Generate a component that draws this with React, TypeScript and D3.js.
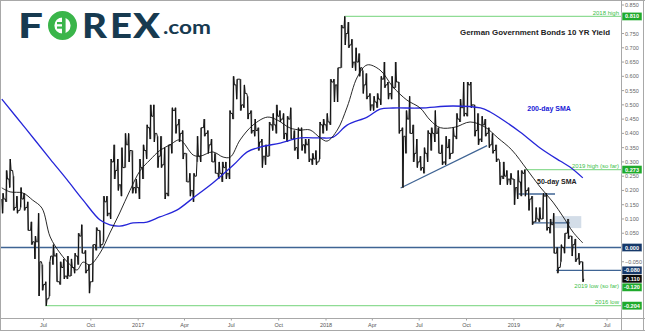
import React from "react";
import * as d3 from "d3";

const W = 645;
const H = 331;

// ---- weekly bund yield data (week starting Monday) ----
const weekStart = "2016-04-11";
const highs = [
  0.19, 0.27, 0.31, 0.25, 0.18, 0.21, 0.19, 0.16, 0.09, 0.04, 0.12, -0.06, -0.12, -0.05, 0.01, -0.02, -0.05, -0.04, -0.03, -0.04,
  -0.02, 0.05, 0.08, -0.01, -0.06, 0.01, 0.07, 0.06, 0.18, 0.18, 0.31, 0.36, 0.31, 0.35, 0.40, 0.40, 0.34, 0.24,
  0.31, 0.36, 0.43, 0.50, 0.50, 0.39, 0.39, 0.35, 0.36, 0.49, 0.49, 0.45, 0.41, 0.33, 0.26, 0.26, 0.39, 0.42, 0.45, 0.41,
  0.38, 0.33, 0.30, 0.30, 0.30, 0.48, 0.60, 0.59, 0.59, 0.57, 0.53, 0.48, 0.45, 0.42, 0.38, 0.36, 0.44, 0.47, 0.50, 0.48,
  0.47, 0.46, 0.49, 0.41, 0.42, 0.42, 0.38, 0.38, 0.33, 0.34, 0.44, 0.45,
  0.47, 0.59, 0.59, 0.63, 0.78, 0.81, 0.79, 0.73, 0.70, 0.68, 0.62, 0.61, 0.54, 0.53, 0.54, 0.60, 0.65, 0.58, 0.60, 0.65,
  0.58, 0.42, 0.48, 0.53, 0.43, 0.38, 0.32, 0.35, 0.41, 0.42, 0.48, 0.42, 0.36, 0.39, 0.38, 0.42, 0.47, 0.52, 0.58, 0.58,
  0.58, 0.50, 0.47, 0.46, 0.45, 0.42, 0.40, 0.36, 0.30, 0.30, 0.27, 0.26, 0.24,
  0.27, 0.27, 0.273, 0.21, 0.18, 0.14, 0.14, 0.19, 0.19, 0.10, 0.12, 0.00, 0.01, 0.05, 0.10, 0.04, 0.03, -0.02, -0.05,
];
const lows = [
  0.12, 0.16, 0.21, 0.13, 0.12, 0.14, 0.13, 0.06, 0.01, -0.04, -0.17, -0.15, -0.204, -0.17, -0.06, -0.12, -0.13, -0.11, -0.11, -0.10,
  -0.09, -0.06, -0.02, -0.09, -0.16, -0.12, -0.01, 0.00, 0.02, 0.11, 0.10, 0.24, 0.20, 0.18, 0.28, 0.30, 0.19, 0.19,
  0.17, 0.24, 0.31, 0.38, 0.37, 0.28, 0.28, 0.17, 0.18, 0.33, 0.40, 0.37, 0.31, 0.23, 0.18, 0.16, 0.30, 0.30, 0.39, 0.33,
  0.30, 0.26, 0.24, 0.23, 0.24, 0.24, 0.45, 0.52, 0.48, 0.49, 0.45, 0.40, 0.39, 0.34, 0.28, 0.29, 0.32, 0.41, 0.40, 0.44,
  0.38, 0.37, 0.38, 0.34, 0.31, 0.34, 0.33, 0.30, 0.29, 0.29, 0.31, 0.40,
  0.41, 0.43, 0.51, 0.51, 0.63, 0.71, 0.70, 0.63, 0.62, 0.60, 0.54, 0.52, 0.48, 0.48, 0.49, 0.50, 0.56, 0.52, 0.52, 0.56,
  0.40, 0.21, 0.33, 0.40, 0.30, 0.28, 0.27, 0.26, 0.30, 0.34, 0.37, 0.33, 0.29, 0.29, 0.31, 0.33, 0.38, 0.44, 0.46, 0.46,
  0.49, 0.39, 0.36, 0.37, 0.39, 0.35, 0.33, 0.30, 0.22, 0.24, 0.22, 0.22, 0.15,
  0.17, 0.18, 0.18, 0.13, 0.08, 0.09, 0.09, 0.10, 0.06, 0.05, -0.02, -0.09, -0.05, -0.02, 0.03, -0.03, -0.05, -0.06, -0.12,
];
const closes = [
  0.17, 0.24, 0.27, 0.14, 0.13, 0.17, 0.14, 0.06, 0.02, 0.02, -0.05, -0.13, -0.18, -0.03, -0.03, -0.12, -0.07, -0.10, -0.10, -0.07,
  -0.03, 0.04, -0.02, -0.08, -0.12, 0.01, 0.06, 0.01, 0.16, 0.12, 0.30, 0.27, 0.22, 0.28, 0.36, 0.34, 0.21, 0.21,
  0.28, 0.34, 0.42, 0.46, 0.40, 0.32, 0.29, 0.19, 0.36, 0.48, 0.43, 0.40, 0.33, 0.23, 0.20, 0.25, 0.32, 0.42, 0.40, 0.36,
  0.30, 0.26, 0.26, 0.28, 0.26, 0.47, 0.57, 0.59, 0.50, 0.54, 0.47, 0.41, 0.41, 0.37, 0.32, 0.32, 0.43, 0.43, 0.46, 0.45,
  0.40, 0.45, 0.38, 0.35, 0.41, 0.36, 0.36, 0.31, 0.31, 0.30, 0.43, 0.43,
  0.44, 0.58, 0.57, 0.63, 0.77, 0.75, 0.71, 0.65, 0.65, 0.63, 0.57, 0.53, 0.50, 0.51, 0.52, 0.59, 0.57, 0.54, 0.56, 0.58,
  0.41, 0.39, 0.45, 0.40, 0.33, 0.30, 0.28, 0.33, 0.40, 0.40, 0.40, 0.33, 0.30, 0.35, 0.33, 0.39, 0.45, 0.49, 0.47, 0.57,
  0.50, 0.41, 0.38, 0.43, 0.40, 0.36, 0.34, 0.31, 0.25, 0.25, 0.24, 0.24, 0.21,
  0.23, 0.26, 0.20, 0.17, 0.09, 0.10, 0.10, 0.18, 0.07, 0.08, -0.02, -0.07, 0.00, 0.05, 0.04, 0.01, -0.04, -0.05, -0.11,
];

// ---- moving averages ----
const sma50: [string, number][] = [
  ["2016-04-11", 0.209], ["2016-04-27", 0.195], ["2016-05-22", 0.191], ["2016-06-10", 0.166], ["2016-06-28", 0.138],
  ["2016-07-14", 0.037], ["2016-08-02", -0.019], ["2016-08-22", -0.061], ["2016-09-04", -0.079], ["2016-09-16", -0.051],
  ["2016-09-29", -0.061], ["2016-10-19", -0.019], ["2016-11-07", 0.051], ["2016-11-26", 0.121], ["2016-12-16", 0.2],
  ["2017-01-05", 0.27], ["2017-01-24", 0.307], ["2017-02-12", 0.34], ["2017-03-04", 0.36], ["2017-03-23", 0.377],
  ["2017-04-18", 0.324], ["2017-05-01", 0.32], ["2017-05-26", 0.335], ["2017-06-15", 0.317], ["2017-06-29", 0.317],
  ["2017-07-18", 0.377], ["2017-08-12", 0.429], ["2017-09-09", 0.457], ["2017-09-28", 0.447], ["2017-10-23", 0.419],
  ["2017-11-12", 0.412], ["2017-12-01", 0.412], ["2017-12-21", 0.384], ["2018-01-03", 0.373], ["2018-01-23", 0.412],
  ["2018-02-11", 0.492], ["2018-03-03", 0.598], ["2018-03-22", 0.64], ["2018-04-16", 0.622], ["2018-05-11", 0.563],
  ["2018-06-07", 0.517], ["2018-07-03", 0.489], ["2018-07-22", 0.447], ["2018-08-11", 0.42], ["2018-09-09", 0.422],
  ["2018-10-08", 0.44], ["2018-11-06", 0.422], ["2018-12-01", 0.384], ["2018-12-28", 0.342], ["2019-01-27", 0.272],
  ["2019-02-21", 0.212], ["2019-03-18", 0.159], ["2019-04-07", 0.107], ["2019-04-26", 0.054], ["2019-05-15", 0.016],
];
const sma200: [string, number][] = [
  ["2016-04-11", 0.52], ["2016-05-26", 0.42], ["2016-07-14", 0.31], ["2016-08-16", 0.237], ["2016-09-16", 0.166],
  ["2016-10-19", 0.096], ["2016-11-07", 0.079], ["2016-11-26", 0.075], ["2016-12-22", 0.086], ["2017-01-18", 0.089],
  ["2017-02-12", 0.107], ["2017-03-17", 0.131], ["2017-04-18", 0.174], ["2017-05-26", 0.226], ["2017-07-05", 0.289],
  ["2017-08-01", 0.335], ["2017-08-26", 0.352], ["2017-10-04", 0.366], ["2017-11-12", 0.384], ["2017-12-21", 0.384],
  ["2018-01-15", 0.387], ["2018-02-11", 0.429], ["2018-03-22", 0.457], ["2018-04-16", 0.485], ["2018-05-11", 0.489],
  ["2018-07-03", 0.489], ["2018-09-05", 0.496], ["2018-10-28", 0.489], ["2018-11-16", 0.475], ["2018-12-05", 0.454],
  ["2019-01-13", 0.405], ["2019-02-21", 0.349], ["2019-04-01", 0.303], ["2019-04-20", 0.282], ["2019-05-15", 0.244],
];

// ---- axis ticks ----
const yTickValues = [
  0.85, 0.8, 0.75, 0.7, 0.65, 0.6, 0.55, 0.5, 0.45, 0.4, 0.35, 0.3, 0.25, 0.2, 0.15, 0.1, 0.05, 0, -0.05, -0.1, -0.15, -0.2,
];
const xTickDates = [
  "2016-07-01", "2016-10-01", "2017-01-01", "2017-04-01", "2017-07-01", "2017-10-01", "2018-01-01",
  "2018-04-01", "2018-07-01", "2018-10-01", "2019-01-01", "2019-04-01", "2019-07-01",
];
const xTickLabels = ["Jul", "Oct", "2017", "Apr", "Jul", "Oct", "2018", "Apr", "Jul", "Oct", "2019", "Apr", "Jul"];

// ---- annotations ----
const greenLevels = [
  { label: "2018 high", value: 0.81, from: "2018-02-06" },
  { label: "2019 high (so far)", value: 0.273, from: "2019-01-23" },
  { label: "2016 low", value: -0.204, from: "2016-07-04" },
];
const blueLevels = [
  { value: 0, from: "2016-04-01", to: null as string | null },
  { value: -0.08, from: "2019-03-24", to: null as string | null },
  { value: 0.1875, from: "2019-01-08", to: "2019-03-22" },
  { value: 0.086, from: "2019-02-08", to: "2019-04-20" },
];
const trendLine = [
  ["2018-05-26", 0.2085],
  ["2018-11-10", 0.357],
] as [string, number][];
const shadedZone = { from: "2019-03-18", to: "2019-05-12", top: 0.11, bottom: 0.068 };
const priceBoxes = [
  { value: 0.81, text: "0.810", color: "#1faa2c" },
  { value: 0.273, text: "0.273", color: "#1faa2c" },
  { value: 0, text: "0.000", color: "#16396a" },
  { value: -0.08, text: "-0.080", color: "#16396a" },
  { value: -0.11, text: "-0.110", color: "#0a0a0a" },
  { value: -0.12, text: "-0.120", color: "#1faa2c" },
  { value: -0.204, text: "-0.204", color: "#1faa2c" },
];

const parse = d3.utcParse("%Y-%m-%d");
const DAY = 86400000;

export default function App() {
  const plotL = 1, plotR = 621, plotT = 1, plotB = 318;
  const x = d3.scaleUtc().domain([parse("2016-07-01")!, parse("2019-07-01")!]).range([43.5, 607]);
  const y = d3.scaleLinear().domain([-0.204, 0.85]).range([305.7, 5]);

  const t0 = parse(weekStart)!.getTime();
  const at = (i: number, k: number) => new Date(t0 + (7 * i + k) * DAY);

  const pts: [number, number][] = [];
  closes.forEach((c, i) => {
    const o = i === 0 ? closes[0] : closes[i - 1];
    const up = c >= o;
    pts.push([x(at(i, 0)), y(o)]);
    pts.push([x(at(i, 1.2)), y(up ? lows[i] : highs[i])]);
    pts.push([x(at(i, 2.6)), y(up ? highs[i] : lows[i])]);
    pts.push([x(at(i, 4)), y(c)]);
  });
  const zig = d3.line()(pts) || "";

  const smaLine = d3
    .line<[string, number]>()
    .x((d) => x(parse(d[0])!))
    .y((d) => y(d[1]))
    .curve(d3.curveCatmullRom.alpha(0.5));

  const boxes = [...priceBoxes].sort((a, b) => b.value - a.value);
  let lastY = -Infinity;
  const boxY = boxes.map((b) => {
    let yy = y(b.value);
    if (yy < lastY + 8.4) yy = lastY + 8.4;
    lastY = yy;
    return yy;
  });
  const visibleTicks = yTickValues.filter((v) => boxY.every((by) => Math.abs(by - y(v)) > 6.5));

  const fmt = d3.format(".3f");
  const grid = "#a8a8a8";
  const sans = "'Liberation Sans', Arial, sans-serif";

  return (
    <svg width={W} height={H} style={{ position: "absolute", left: 0, top: 0, background: "#fff" }}>
      <defs>
        <clipPath id="plot">
          <rect x={plotL} y={plotT} width={plotR - plotL} height={plotB - plotT} />
        </clipPath>
      </defs>
      <rect x={0} y={0} width={W} height={H} fill="#fff" />

      {/* frame */}
      <line x1={0} x2={W} y1={0.5} y2={0.5} stroke={grid} />
      <line x1={0.5} x2={0.5} y1={0} y2={H} stroke={grid} />
      <line x1={plotR + 0.5} x2={plotR + 0.5} y1={0} y2={H} stroke={grid} />
      <line x1={643.5} x2={643.5} y1={0} y2={H} stroke={grid} />
      <line x1={0} x2={W} y1={plotB + 0.5} y2={plotB + 0.5} stroke={grid} />
      <line x1={0} x2={W} y1={330.5} y2={330.5} stroke={grid} />

      {/* logo */}
      <g>
        <text x={18} y={38} fontFamily="Lato, 'DejaVu Sans'" fontWeight={900} fontSize={35} fill="#173a50" textLength={25} lengthAdjust="spacingAndGlyphs">F</text>
        <circle cx={62.5} cy={25.5} r={11.3} fill="none" stroke="#3ab54a" strokeWidth={6.4} />
        <rect x={62} y={17} width={3.6} height={17} fill="#3ab54a" />
        <rect x={57} y={22} width={6} height={2.2} fill="#3ab54a" />
        <rect x={57} y={26.5} width={6} height={2.2} fill="#3ab54a" />
        <text x={82} y={38} fontFamily="Lato, 'DejaVu Sans'" fontWeight={900} fontSize={35} fill="#173a50" textLength={25} lengthAdjust="spacingAndGlyphs">R</text>
        <text x={110} y={38} fontFamily="Lato, 'DejaVu Sans'" fontWeight={900} fontSize={35} fill="#173a50" textLength={22} lengthAdjust="spacingAndGlyphs">E</text>
        <text x={133} y={38} fontFamily="Lato, 'DejaVu Sans'" fontWeight={900} fontSize={35} fill="#173a50" textLength={27} lengthAdjust="spacingAndGlyphs">X</text>
        <text x={163} y={33.5} fontFamily="Lato, 'DejaVu Sans'" fontWeight={700} fontSize={19} fill="#173a50" textLength={48} lengthAdjust="spacingAndGlyphs">.com</text>
      </g>

      {/* title */}
      <text x={460} y={35} fontFamily={sans} fontWeight={700} fontSize={7.3} fill="#222" textLength={150} lengthAdjust="spacingAndGlyphs">
        German Government Bonds 10 YR Yield
      </text>

      <g clipPath="url(#plot)">
        <rect
          x={x(parse(shadedZone.from)!)}
          y={y(shadedZone.top)}
          width={x(parse(shadedZone.to)!) - x(parse(shadedZone.from)!)}
          height={y(shadedZone.bottom) - y(shadedZone.top)}
          fill="#d3dde8"
        />
        {greenLevels.map((g, i) => (
          <line key={"g" + i} x1={x(parse(g.from)!)} x2={plotR} y1={y(g.value)} y2={y(g.value)} stroke="#8fdc95" strokeWidth={1.2} />
        ))}
        {blueLevels.map((b, i) => (
          <line
            key={"b" + i}
            x1={x(parse(b.from)!)}
            x2={b.to ? x(parse(b.to)!) : plotR}
            y1={y(b.value)}
            y2={y(b.value)}
            stroke="#3f6494"
            strokeWidth={1.3}
          />
        ))}
        <line
          x1={x(parse(trendLine[0][0])!)}
          y1={y(trendLine[0][1])}
          x2={x(parse(trendLine[1][0])!)}
          y2={y(trendLine[1][1])}
          stroke="#3f6494"
          strokeWidth={1.2}
        />

        {closes.map((c, i) => (
          <line key={"hl" + i} x1={x(at(i, 2))} x2={x(at(i, 2))} y1={y(highs[i])} y2={y(lows[i])} stroke="#777" strokeWidth={1.6} />
        ))}
        <path d={zig} fill="none" stroke="#111" strokeWidth={1} strokeLinejoin="miter" />

        <path d={smaLine(sma200) || ""} fill="none" stroke="#2626d9" strokeWidth={1.3} />
        <path d={smaLine(sma50) || ""} fill="none" stroke="#111" strokeWidth={0.9} />
      </g>

      {greenLevels.map((g, i) => (
        <text key={"gt" + i} x={619} y={y(g.value) - 1.6} textAnchor="end" fontFamily={sans} fontSize={6} fill="#3cc04a">
          {g.label}
        </text>
      ))}
      <text x={619} y={y(-0.12) + 6.5} textAnchor="end" fontFamily={sans} fontSize={6} fill="#3cc04a">
        2019 low (so far)
      </text>
      <text x={x(parse("2019-01-27")!)} y={y(0.489) + 2.6} fontFamily={sans} fontWeight={700} fontSize={7} fill="#2020d6">
        200-day SMA
      </text>
      <text x={x(parse("2019-02-15")!)} y={y(0.233) + 2.6} fontFamily={sans} fontWeight={700} fontSize={7} fill="#222">
        50-day SMA
      </text>

      {yTickValues.map((v) => (
        <line key={"ytl" + v} x1={plotR + 1} x2={plotR + 3} y1={y(v)} y2={y(v)} stroke="#888" strokeWidth={0.8} />
      ))}
      {visibleTicks.map((v) => (
        <text key={"yt" + v} x={625} y={y(v) + 2} fontFamily={sans} fontSize={5.5} fill="#666">
          {fmt(v)}
        </text>
      ))}
      {boxes.map((b, i) => (
        <g key={"bx" + i}>
          <rect x={622} y={boxY[i] - 4.2} width={20} height={8.4} fill={b.color} stroke="#fff" strokeWidth={0.5} />
          <text x={632} y={boxY[i] + 2} textAnchor="middle" fontFamily={sans} fontWeight={700} fontSize={5.6} fill="#fff">
            {b.text}
          </text>
        </g>
      ))}

      {xTickDates.map((d, i) => (
        <g key={"xt" + d}>
          <line x1={x(parse(d)!)} x2={x(parse(d)!)} y1={plotB + 1} y2={plotB + 2.5} stroke="#888" strokeWidth={0.8} />
          <text x={x(parse(d)!)} y={327} textAnchor="middle" fontFamily={sans} fontSize={5.5} fill="#555">
            {xTickLabels[i]}
          </text>
        </g>
      ))}
    </svg>
  );
}
